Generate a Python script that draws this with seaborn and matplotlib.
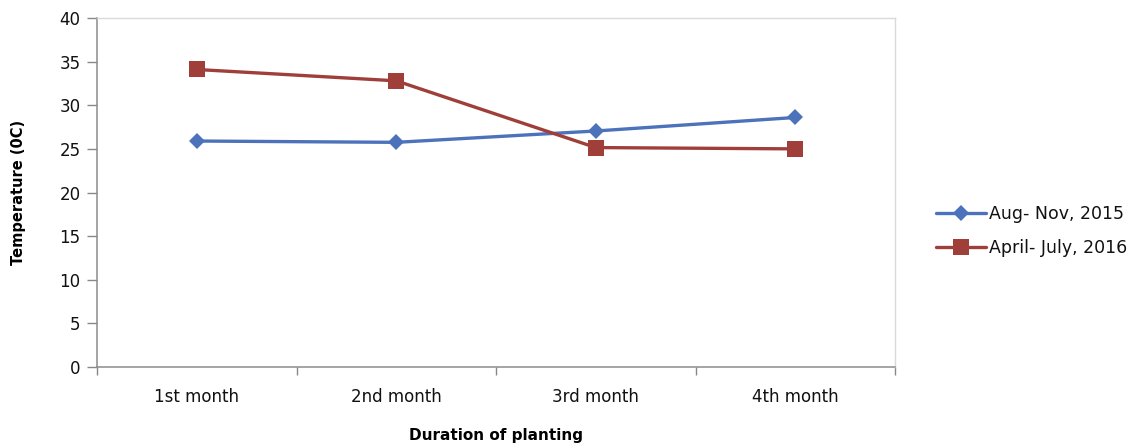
import matplotlib
matplotlib.use("Agg")
import matplotlib.pyplot as plt
import seaborn as sns
import pandas as pd
from matplotlib.ticker import FixedLocator
from matplotlib.lines import Line2D

months = ["1st month", "2nd month", "3rd month", "4th month"]
aug_nov_2015 = [25.9, 25.75, 27.05, 28.6]
april_july_2016 = [34.1, 32.8, 25.15, 25.0]
series_names = ["Aug- Nov, 2015", "April- July, 2016"]
y_ticks = [0, 5, 10, 15, 20, 25, 30, 35, 40]

df = pd.DataFrame({
    "month": months * 2,
    "temp": aug_nov_2015 + april_july_2016,
    "period": [series_names[0]] * 4 + [series_names[1]] * 4,
})

sns.set_style("white")
plt.rcParams["font.family"] = ["DejaVu Sans"]

fig = plt.figure(figsize=(11.39, 4.47), dpi=100)
ax = fig.add_axes([0.0852, 0.179, 0.7006, 0.7807])

blue = "#4C72BC"
red = "#A03E3A"
sns.lineplot(data=df, x="month", y="temp", hue="period", style="period",
             markers={series_names[0]: "D", series_names[1]: "s"},
             dashes=False, palette=[blue, red], linewidth=2.4,
             markeredgewidth=0, ax=ax, legend=False)
for line, ms in zip(ax.lines, [8, 11]):
    line.set_markersize(ms)

ax.set_xlim(-0.5, 3.5)
ax.set_ylim(0, 40)
ax.set_yticks(y_ticks)
ax.set_xticks(range(len(months)))
ax.set_xticklabels(months)
ax.xaxis.set_minor_locator(FixedLocator([-0.5, 0.5, 1.5, 2.5, 3.5]))

ax.tick_params(axis="x", which="major", length=0, pad=15, labelsize=12, colors="#111111")
ax.tick_params(axis="x", which="minor", length=6, width=1, color="#888888", direction="out")
ax.tick_params(axis="y", which="major", length=7, width=1, color="#888888", direction="out",
               labelsize=12, labelcolor="#111111", pad=5)
ax.tick_params(bottom=True, left=True, which="both")

for side in ["left", "bottom"]:
    ax.spines[side].set_color("#8c8c8c")
    ax.spines[side].set_linewidth(1.1)
for side in ["top", "right"]:
    ax.spines[side].set_color("#dadada")
    ax.spines[side].set_linewidth(1.0)

ax.set_xlabel("Duration of planting", fontsize=11, fontweight="bold", labelpad=16, color="#000000")
ax.set_ylabel("Temperature (0C)", fontsize=10.5, fontweight="bold", labelpad=24, color="#000000")

handles = [
    Line2D([], [], color=blue, lw=2.4, marker="D", ms=8, mew=0),
    Line2D([], [], color=red, lw=2.4, marker="s", ms=11, mew=0),
]
fig.legend(handles, series_names, loc="center left", bbox_to_anchor=(0.808, 0.483),
           frameon=False, fontsize=12.5, handlelength=2.9, handletextpad=0.15,
           labelspacing=0.95, labelcolor="#111111")

fig.savefig("out.png", dpi=100, facecolor="white")
